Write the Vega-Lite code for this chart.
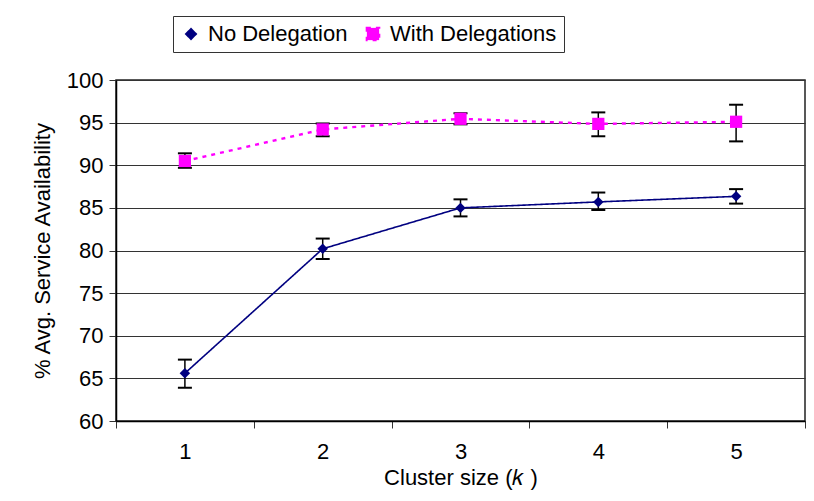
{
  "$schema": "https://vega.github.io/schema/vega-lite/v6.json",
  "width": 689,
  "height": 341,
  "autosize": {"type": "none"},
  "padding": {"left": 116, "top": 80, "right": 9, "bottom": 80},
  "background": "white",
  "config": {
    "font": "Liberation Sans",
    "view": {"stroke": "#222", "strokeWidth": 1.5},
    "axis": {
      "labelFont": "Liberation Sans",
      "labelFontSize": 22,
      "labelColor": "black",
      "titleFont": "Liberation Sans",
      "titleFontSize": 22,
      "titleFontWeight": "normal",
      "titleColor": "black",
      "domainColor": "black",
      "domainWidth": 1.5,
      "tickColor": "#333",
      "tickSize": 7
    },
    "legend": {
      "orient": "none",
      "legendX": 57,
      "legendY": -64,
      "direction": "horizontal",
      "strokeColor": "#333",
      "padding": 7,
      "labelFontSize": 22,
      "labelFont": "Liberation Sans",
      "labelColor": "black",
      "labelLimit": 400,
      "labelOffset": 6,
      "columnPadding": 14
    }
  },
  "data": {
    "values": [
      {"k": "1", "series": "No Delegation", "value": 65.6, "lo": 63.9, "hi": 67.2},
      {"k": "2", "series": "No Delegation", "value": 80.2, "lo": 79.0, "hi": 81.4},
      {"k": "3", "series": "No Delegation", "value": 85.0, "lo": 84.0, "hi": 86.0},
      {"k": "4", "series": "No Delegation", "value": 85.7, "lo": 84.75, "hi": 86.8},
      {"k": "5", "series": "No Delegation", "value": 86.35, "lo": 85.5, "hi": 87.2},
      {"k": "1", "series": "With Delegations", "value": 90.5, "lo": 89.7, "hi": 91.4},
      {"k": "2", "series": "With Delegations", "value": 94.2, "lo": 93.4, "hi": 94.9},
      {"k": "3", "series": "With Delegations", "value": 95.45, "lo": 94.8, "hi": 96.1},
      {"k": "4", "series": "With Delegations", "value": 94.85, "lo": 93.4, "hi": 96.2},
      {"k": "5", "series": "With Delegations", "value": 95.1, "lo": 92.8, "hi": 97.1}
    ]
  },
  "encoding": {
    "x": {
      "field": "k",
      "type": "ordinal",
      "bandPosition": 0.5,
      "scale": {"type": "band", "paddingInner": 0, "paddingOuter": 0},
      "axis": {
        "title": "Cluster size (𝑘 )",
        "labelAngle": 0,
        "tickBand": "extent",
        "labelPadding": 13,
        "titlePadding": 5
      }
    }
  },
  "layer": [
    {
      "mark": {"type": "rule", "color": "black", "strokeWidth": 1.5},
      "encoding": {
        "y": {"field": "lo", "type": "quantitative"},
        "y2": {"field": "hi"}
      }
    },
    {
      "mark": {"type": "tick", "orient": "horizontal", "color": "black", "opacity": 1, "size": 14, "thickness": 2},
      "encoding": {"y": {"field": "lo", "type": "quantitative"}}
    },
    {
      "mark": {"type": "tick", "orient": "horizontal", "color": "black", "opacity": 1, "size": 14, "thickness": 2},
      "encoding": {"y": {"field": "hi", "type": "quantitative"}}
    },
    {
      "mark": {"type": "line"},
      "encoding": {
        "y": {
          "field": "value",
          "type": "quantitative",
          "scale": {"domain": [60, 100], "nice": false, "zero": false},
          "axis": {
            "title": "% Avg. Service Availability",
            "values": [60, 65, 70, 75, 80, 85, 90, 95, 100],
            "grid": true,
            "gridColor": "#333",
            "gridWidth": 1,
            "labelPadding": 6,
            "titlePadding": 12
          }
        },
        "color": {
          "field": "series",
          "type": "nominal",
          "scale": {"domain": ["No Delegation", "With Delegations"], "range": ["#000080", "#FF00FF"]},
          "legend": {"title": null}
        },
        "strokeDash": {
          "field": "series",
          "type": "nominal",
          "scale": {"domain": ["No Delegation", "With Delegations"], "range": [[1, 0], [4, 5]]},
          "legend": null
        },
        "strokeWidth": {
          "field": "series",
          "type": "nominal",
          "scale": {"domain": ["No Delegation", "With Delegations"], "range": [1.6, 2.4]},
          "legend": null
        }
      }
    },
    {
      "mark": {"type": "point", "filled": true, "opacity": 1},
      "encoding": {
        "y": {"field": "value", "type": "quantitative"},
        "color": {"field": "series", "type": "nominal", "legend": {"title": null}},
        "shape": {
          "field": "series",
          "type": "nominal",
          "scale": {"domain": ["No Delegation", "With Delegations"], "range": ["diamond", "square"]},
          "legend": null
        },
        "size": {
          "field": "series",
          "type": "nominal",
          "scale": {"domain": ["No Delegation", "With Delegations"], "range": [110, 150]},
          "legend": null
        }
      }
    }
  ]
}
